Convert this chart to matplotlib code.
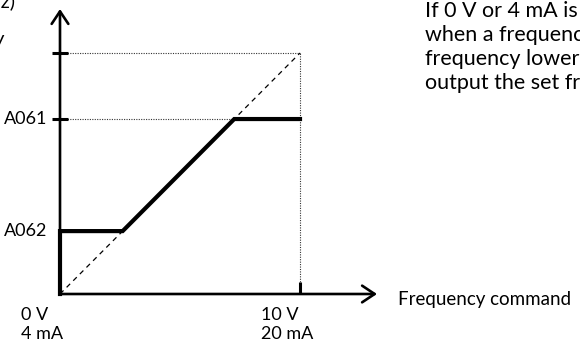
import matplotlib
matplotlib.use("Agg")
import matplotlib.pyplot as plt

plt.rcParams['font.family'] = ['Lato', 'DejaVu Sans']

# input (V) and output frequency (relative units, max = 10)
v_max = 10.0
f_max = 10.0
a061 = 7.26   # upper limit
a062 = 2.61   # lower limit

# thick output characteristic
curve_x = [0, 0, a062, a061, v_max]
curve_y = [0, a062, a062, a061, a061]

x_labels = [("0 V", "4 mA"), ("10 V", "20 mA")]
x_label_pos = [0, v_max]
y_labels = ["A061", "A062"]
y_label_pos = [a061, a062]

note_lines = ["If 0 V or 4 mA is",
              "when a frequenc",
              "frequency lower",
              "output the set fr"]

fig = plt.figure(figsize=(5.8, 3.49), dpi=100)
ax = fig.add_axes([0, 0, 1, 1])
px_x = 24.0
px_y = 24.1
ax.set_xlim(-60 / px_x, (580 - 60) / px_x)
ax.set_ylim(-(349 - 294) / px_y, 294 / px_y)
ax.axis('off')

# axes with arrows
arr = dict(arrowstyle='->, head_length=0.45, head_width=0.3', lw=1.9,
           color='black', shrinkA=0, shrinkB=0, mutation_scale=20)
ax.annotate('', xy=(0, 285 / px_y), xytext=(0, 0), arrowprops=arr)
ax.annotate('', xy=(317 / px_x, 0), xytext=(0, 0), arrowprops=arr)

# guide lines
ax.plot([0, v_max], [0, f_max], color='black', lw=0.9, ls=(0, (4, 3.5)))
dot = dict(color='#333333', lw=0.8, ls=(0, (1, 1.2)))
ax.plot([0, v_max], [f_max, f_max], **dot)
ax.plot([0, v_max], [a061, a061], **dot)
ax.plot([v_max, v_max], [0, f_max], **dot)

# ticks
ax.plot([0, 0], [f_max, a061], ls='none', marker='_', ms=11, mew=2.2, color='black')
ax.plot([v_max, v_max], [0, 12 / px_y], color='black', lw=2.2, solid_capstyle='butt')

# characteristic
ax.plot(curve_x, curve_y, color='black', lw=3, solid_joinstyle='miter')

# labels
for lab, y in zip(y_labels, y_label_pos):
    ax.annotate(lab, xy=(0, y), xytext=(-9, 0), textcoords='offset points',
                ha='right', va='center', fontsize=13)
for (l1, l2), x in zip(x_labels, x_label_pos):
    ax.annotate(l1, xy=(x, 0), xytext=(-28, -15), textcoords='offset points',
                ha='left', va='center', fontsize=13)
    ax.annotate(l2, xy=(x, 0), xytext=(-28, -28.5), textcoords='offset points',
                ha='left', va='center', fontsize=13)

ax.annotate("Frequency command", xy=(317 / px_x, 0), xytext=(15, -4),
            textcoords='offset points', ha='left', va='center', fontsize=13.5)

# cut-off pieces of the axis title and the note on the right
fig.text(15 / 580, 1 - 1 / 349, "(Hz)", ha='right', va='center', fontsize=14.5)
fig.text(5 / 580, 1 - 40 / 349, "frequency", ha='right', va='center', fontsize=14.5)
for i, line in enumerate(note_lines):
    fig.text(425 / 580, 1 - (11 + 24 * i) / 349, line, ha='left', va='center',
             fontsize=15.5)

fig.savefig("out.png", dpi=100)
